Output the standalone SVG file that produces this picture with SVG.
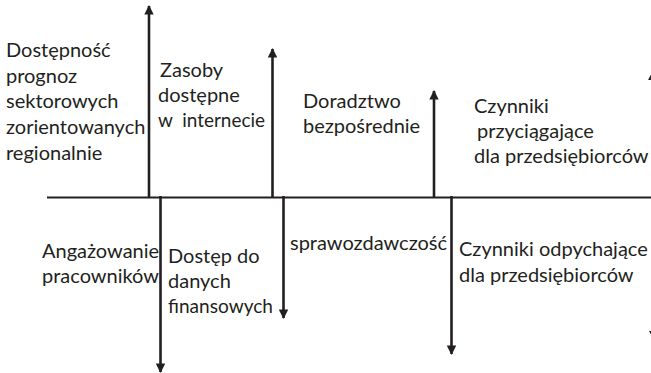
<svg xmlns="http://www.w3.org/2000/svg" width="651" height="373" viewBox="0 0 651 373">
  <style>
    text { font-family: Lato, "Open Sans", "Liberation Sans", sans-serif; font-size: 20px; fill: #231f20; }
    .axis { stroke: #231f20; stroke-width: 2.2; fill: none; }
    .arr { stroke: #231f20; stroke-width: 2.6; fill: none; }
    .head { fill: #231f20; }
  </style>
  <defs>
    <marker id="tip" viewBox="0 0 10 10" refX="9" refY="5" markerWidth="3.8" markerHeight="3.6" orient="auto" markerUnits="strokeWidth">
      <path d="M0,0 L10,5 L0,10 Z" class="head"/>
    </marker>
  </defs>

  <!-- baseline axis -->
  <line class="axis" x1="47" y1="197.5" x2="651" y2="197.5"/>

  <g id="connectors">
    <!-- upward arrows -->
    <line class="arr" x1="149" y1="198" x2="149" y2="6" marker-end="url(#tip)"/>
    <line class="arr" x1="272.5" y1="198" x2="272.5" y2="49" marker-end="url(#tip)"/>
    <line class="arr" x1="434" y1="198" x2="434" y2="91" marker-end="url(#tip)"/>
    <!-- downward arrows -->
    <line class="arr" x1="160.5" y1="196" x2="160.5" y2="372" marker-end="url(#tip)"/>
    <line class="arr" x1="283.5" y1="196" x2="283.5" y2="318" marker-end="url(#tip)"/>
    <line class="arr" x1="451.5" y1="196" x2="451.5" y2="354" marker-end="url(#tip)"/>
    <!-- arrowheads cut by the right edge -->
    <path class="head" d="M653,71 L658,80 L648,80 Z"/>
    <path class="head" d="M649,331 L659,331 L654,340 Z"/>
  </g>

  <g id="n-prognozy">
    <text x="6" y="57">Dostępność</text>
    <text x="6" y="83">prognoz</text>
    <text x="6" y="108">sektorowych</text>
    <text x="6" y="134">zorientowanych</text>
    <text x="6" y="160">regionalnie</text>
  </g>

  <g id="n-internet">
    <text x="160" y="77">Zasoby</text>
    <text x="158" y="102">dostępne</text>
    <text x="158" y="127" xml:space="preserve" textLength="107" lengthAdjust="spacingAndGlyphs">w  internecie</text>
  </g>

  <g id="n-doradztwo">
    <text x="303" y="108">Doradztwo</text>
    <text x="303" y="133">bezpośrednie</text>
  </g>

  <g id="n-przyciagajace">
    <text x="474" y="113">Czynniki</text>
    <text x="477" y="138">przyciągające</text>
    <text x="474" y="163">dla przedsiębiorców</text>
  </g>

  <g id="n-angazowanie">
    <text x="42" y="258">Angażowanie</text>
    <text x="42" y="283">pracowników</text>
  </g>

  <g id="n-dane">
    <text x="168" y="263">Dostęp do</text>
    <text x="168" y="288">danych</text>
    <text x="168" y="313" textLength="105" lengthAdjust="spacingAndGlyphs">finansowych</text>
  </g>

  <g id="n-sprawozdawczosc">
    <text x="290" y="250">sprawozdawczość</text>
  </g>

  <g id="n-odpychajace">
    <text x="459" y="256">Czynniki odpychające</text>
    <text x="459" y="282">dla przedsiębiorców</text>
  </g>
</svg>
